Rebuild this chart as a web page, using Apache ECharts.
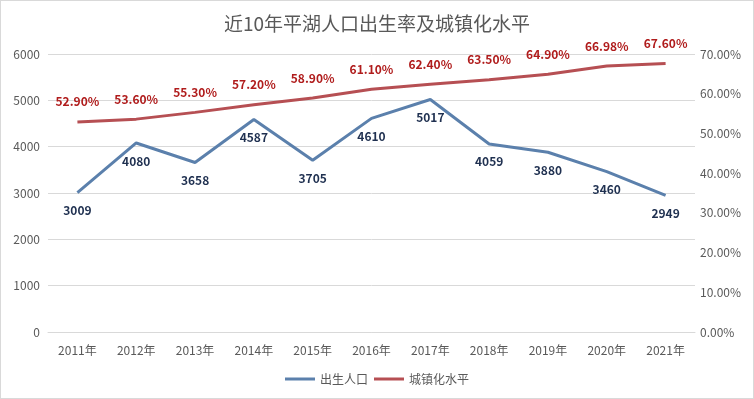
<!DOCTYPE html>
<html><head><meta charset="utf-8">
<script src="https://cdn.jsdelivr.net/npm/echarts@6/dist/echarts.min.js"></script>
<style>html,body{margin:0;padding:0;background:#fff}#c{width:754px;height:399px;box-sizing:border-box;border:1px solid #d9d9d9}</style>
</head><body><div id="c"></div>
<script>
const categories = ['2011年','2012年','2013年','2014年','2015年','2016年','2017年','2018年','2019年','2020年','2021年'];
const births = [3009,4080,3658,4587,3705,4610,5017,4059,3880,3460,2949];
const urbanization = [52.90,53.60,55.30,57.20,58.90,61.10,62.40,63.50,64.90,66.98,67.60];
const chart = echarts.init(document.getElementById('c'));
const font = '"Microsoft YaHei","Noto Sans CJK SC",sans-serif';
chart.setOption({
  animation:false,
  textStyle:{fontFamily:font},
  title:{text:'近10年平湖人口出生率及城镇化水平',left:'center',top:8,textStyle:{fontSize:19,fontWeight:'normal',color:'#595959',fontFamily:font}},
  legend:{bottom:8,itemWidth:30,itemHeight:3,itemGap:6,icon:'rect',textStyle:{color:'#595959',fontSize:12},data:['出生人口','城镇化水平']},
  grid:{left:47,right:58,top:53,bottom:66},
  xAxis:{type:'category',data:categories,boundaryGap:true,axisLine:{lineStyle:{color:'#d9d9d9'}},axisTick:{show:false},axisLabel:{color:'#595959',fontSize:12,margin:12}},
  yAxis:[
    {type:'value',min:0,max:6000,interval:1000,axisLine:{show:false},axisTick:{show:false},axisLabel:{color:'#595959',fontSize:12,margin:8,formatter:v=>String(v)},splitLine:{lineStyle:{color:'#d9d9d9'}}},
    {type:'value',min:0,max:70,interval:10,axisLine:{show:false},axisTick:{show:false},axisLabel:{color:'#595959',fontSize:12,margin:5,formatter:v=>v.toFixed(2)+'%'},splitLine:{show:false}}
  ],
  series:[
    {name:'出生人口',type:'line',data:births,yAxisIndex:0,symbol:'circle',symbolSize:0,showSymbol:true,lineStyle:{width:3,color:'#5b80ac'},itemStyle:{color:'#5b80ac'},
     label:{show:true,position:'bottom',distance:12,color:'#1f3050',fontWeight:'bold',fontSize:12}},
    {name:'城镇化水平',type:'line',data:urbanization,yAxisIndex:1,symbol:'circle',symbolSize:0,showSymbol:true,lineStyle:{width:3,color:'#b64f53'},itemStyle:{color:'#b64f53'},
     label:{show:true,position:'top',distance:14,color:'#b01c1c',fontWeight:'bold',fontSize:12,formatter:p=>p.value.toFixed(2)+'%'}}
  ]
});
</script></body></html>
